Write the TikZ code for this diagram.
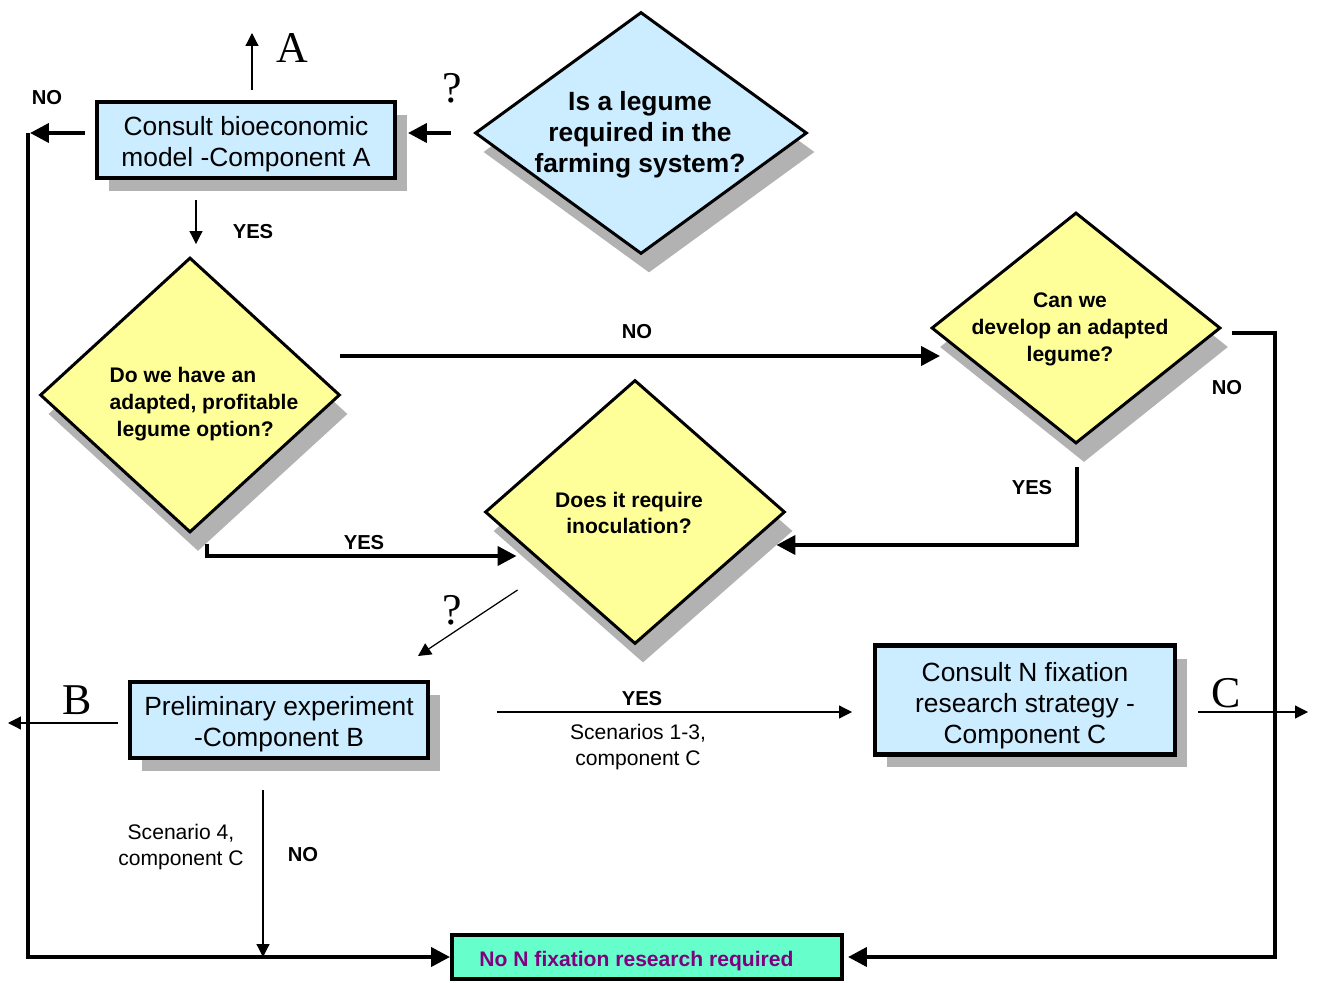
\documentclass[tikz,border=0pt]{standalone}
\usepackage{fontspec}
\setmainfont{Liberation Sans}
\newfontfamily\timesfont{Liberation Serif}
\usetikzlibrary{arrows.meta,positioning,calc,shapes.geometric,shadows}
\definecolor{boxblue}{HTML}{CCECFF}
\definecolor{qyellow}{HTML}{FFFF99}
\definecolor{nogreen}{HTML}{66FFCC}
\definecolor{nopurple}{HTML}{800080}
\definecolor{shadowgray}{HTML}{B2B2B2}

\begin{document}
\begin{tikzpicture}[
  x=0.02cm, y=-0.02cm,
  box/.style={draw,line width=2.3pt,fill=boxblue,minimum width=5.96cm,minimum height=1.52cm,inner sep=0pt,align=center,
    font=\fontsize{15}{17.6}\selectfont,
    drop shadow={shadow xshift=0.24cm,shadow yshift=-0.26cm,fill=shadowgray,opacity=1}},
  endbox/.style={draw,line width=2.3pt,fill=nogreen,inner sep=0pt,text=nopurple,font=\fontsize{12}{14}\selectfont\bfseries},
  decision/.style={diamond,draw,line width=1.7pt,fill=qyellow,inner sep=0pt,
    drop shadow={shadow xshift=0.16cm,shadow yshift=-0.38cm,fill=shadowgray,opacity=1}},
  qlarge/.style={align=center,font=\fontsize{15}{17.6}\selectfont\bfseries},
  qsmall/.style={align=center,font=\fontsize{12}{15.3}\selectfont\bfseries},
  yesno/.style={font=\fontsize{11.5}{13}\selectfont\bfseries},
  note/.style={align=center,font=\fontsize{12}{15.3}\selectfont},
  letter/.style={font=\timesfont\fontsize{25}{28}\selectfont,inner sep=0pt},
  bigline/.style={line width=2.3pt},
  bigarrow/.style={bigline,-{Triangle[length=0.38cm,width=0.38cm]}},
  thinarrow/.style={line width=0.7pt,-{Triangle[length=0.26cm,width=0.26cm]}}
]
\useasboundingbox (0,0) rectangle (1319,983);

% decisions
\node[decision,fill=boxblue,minimum width=6.64cm,minimum height=4.84cm] (legumeq) at (641,133) {};
\node[qlarge] (legumet) at (640,135) {Is a legume\\required in the\\farming system?};
\node[decision,minimum width=6.0cm,minimum height=5.5cm] (haveq) at (190,395) {};
\node[qsmall,align=left] (havet) at (204,404) {Do we have an\\adapted, profitable\\\hspace{4pt}legume option?};
\node[decision,minimum width=5.78cm,minimum height=4.62cm] (devq) at (1076,328) {};
\node[qsmall] (devt) at (1070,329) {Can we\\develop an adapted\\legume?};
\node[decision,minimum width=6.0cm,minimum height=5.28cm] (inocq) at (635,512) {};
\node[qsmall] (inoct) at (629,513) {Does it require\\inoculation?};

% components
\node[box] (consultA) at (246,140) {\rule{0pt}{16pt}Consult bioeconomic\\model -Component A};
\node[box] (prelimB) at (279,720) {\rule{0pt}{15.5pt}Preliminary experiment\\-Component B};
\node[box,minimum width=6.0cm,minimum height=2.18cm] (consultC) at (1025,700) {\rule{0pt}{17.5pt}Consult N fixation\\research strategy -\\Component C};
\node[endbox,minimum width=7.8cm,minimum height=0.88cm] (nofix) at (647,957) {\hspace{-12pt}\rule{0pt}{13pt}No N fixation research required};

% free ends and corners
\coordinate (toA) at (252,33);
\coordinate (toB) at (8,723);
\coordinate (toC) at (1308,712);
\coordinate (nwcorner) at (28,133);
\coordinate (swcorner) at (28,957);
\coordinate (secorner) at (1275,957);

% thick connectors
\draw[bigarrow] ($(legumeq.west)+(-23,0)$) -- ($(consultA.east |- legumeq.west)+(11,0)$);
\draw[bigarrow] ($(consultA.west |- nwcorner)+(-10,0)$) -- ($(nwcorner)+(2,0)$);
\draw[bigarrow] (nwcorner) -- (swcorner) -- (nofix.west);
\draw[bigarrow] ($(haveq.east)+(-1,-39)$) -- ($(devq.west)+(10,28)$);
\draw[bigarrow] ($(haveq.south)+(17,10)$) |- ($(inocq.west)+(33,44)$);
\draw[bigarrow] ($(devq.south)+(1,22)$) |- ($(inocq.east)+(-10,33)$);
\draw[bigarrow] ($(devq.east)+(10,5)$) -| (secorner) -- ($(nofix.east)+(4,0)$);

% thin connectors
\draw[thinarrow] ($(consultA.north)+(6,-10)$) -- (toA);
\draw[thinarrow] ($(consultA.south)+(-50,20)$) -- ($(haveq.north)+(6,-12)$);
\draw[thinarrow] ($(inocq.west)+(34,78)$) -- ($(prelimB.north)+(139,-24)$);
\draw[thinarrow] ($(prelimB.west)+(-10,3)$) -- (toB);
\draw[thinarrow] ($(prelimB.east)+(67,-8)$) -- ($(consultC.west)+(-21,12)$);
\draw[thinarrow] ($(consultC.east)+(21,12)$) -- (toC);
\draw[thinarrow] ($(prelimB.south)+(-16,30)$) -- ($(prelimB.south |- swcorner)+(-16,0)$);

% labels
\node[yesno] (noA) at (47,98) {NO};
\node[yesno] (yesA) at (253,232) {YES};
\node[yesno] (nohave) at (637,332) {NO};
\node[yesno] (yeshave) at (364,543) {YES};
\node[yesno] (yesdev) at (1032,488) {YES};
\node[yesno] (nodev) at (1227,388) {NO};
\node[yesno] (yesinoc) at (642,699) {YES};
\node[note] (scen13) at (638,747) {Scenarios 1-3,\\component C};
\node[note] (scen4) at (181,847) {Scenario 4,\\component C};
\node[yesno] (noinoc) at (303,855) {NO};
\node[letter] (letA) at (292,48) {A};
\node[letter] (askA) at (452,88) {?};
\node[letter] (askB) at (452,610) {?};
\node[letter] (letB) at (77,700) {B};
\node[letter] (letC) at (1226,693) {C};
\end{tikzpicture}
\end{document}
